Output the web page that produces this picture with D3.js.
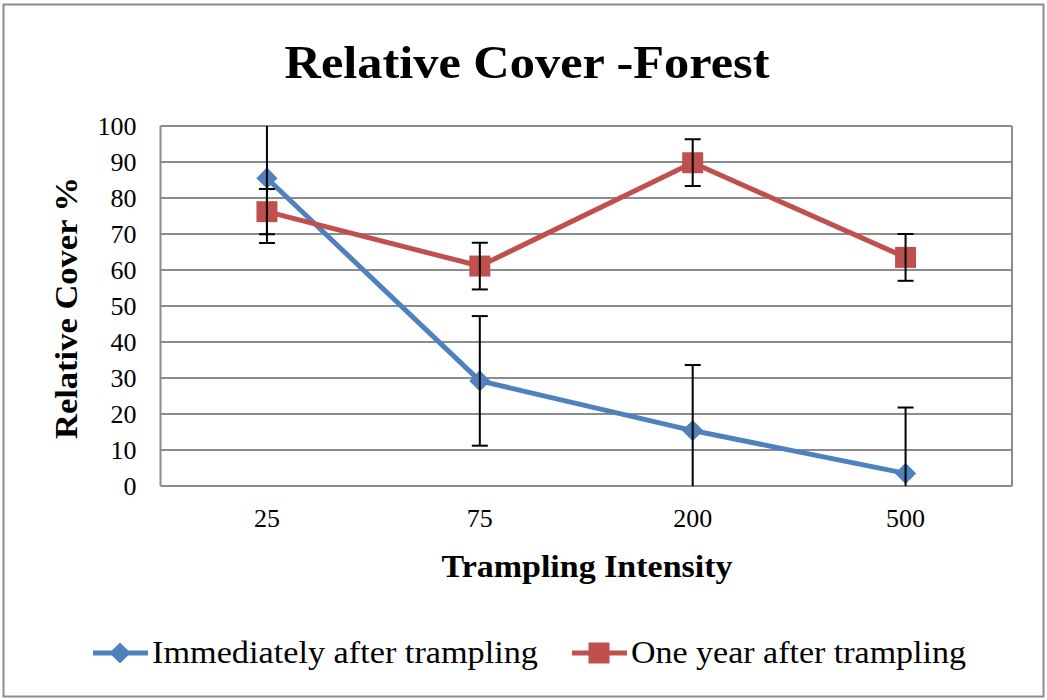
<!DOCTYPE html>
<html>
<head>
<meta charset="utf-8">
<script src="https://cdn.jsdelivr.net/npm/d3@7"></script>
<style>
  body { margin: 0; background: #fff; }
  text { font-family: "Liberation Serif", "DejaVu Serif", serif; }
</style>
</head>
<body>
<div id="svg-holder"></div>
<script>
let width = 1047,
    height = 700

// data
let categories = ["25", "75", "200", "500"]
let immediate = [85.5, 29.2, 15.4, 3.5]
let immediateErr = [18, 18, 18.2, 18.3]
let oneYear = [76.2, 61.1, 89.8, 63.5]
let oneYearErr = [6.3, 6.5, 6.5, 6.5]
let yTicks = [0, 10, 20, 30, 40, 50, 60, 70, 80, 90, 100]
let seriesNames = ["Immediately after trampling", "One year after trampling"]

let svg = d3.select("#svg-holder").append("svg")
    .attr("width", width)
    .attr("height", height)

// outer frame
svg.append("rect")
    .attr("x", 3.5).attr("y", 4.5)
    .attr("width", 1040).attr("height", 692)
    .attr("fill", "#fff")
    .attr("stroke", "#8c8c8c")
    .attr("stroke-width", 2)

let plot = {left: 160.5, right: 1012, top: 126, bottom: 486}

let x = d3.scaleBand()
    .domain(categories)
    .range([plot.left, plot.right])

let y = d3.scaleLinear()
    .domain([0, 100])
    .range([plot.bottom, plot.top])

// gridlines
svg.append("g")
    .selectAll("line")
    .data(yTicks)
    .enter()
    .append("line")
        .attr("x1", plot.left)
        .attr("x2", plot.right)
        .attr("y1", d => y(d))
        .attr("y2", d => y(d))
        .attr("stroke", "#8c8c8c")
        .attr("stroke-width", 2)

// plot frame sides
svg.append("line")
    .attr("x1", plot.left).attr("x2", plot.left)
    .attr("y1", plot.top).attr("y2", plot.bottom)
    .attr("stroke", "#8c8c8c").attr("stroke-width", 2)
svg.append("line")
    .attr("x1", plot.right).attr("x2", plot.right)
    .attr("y1", plot.top).attr("y2", plot.bottom)
    .attr("stroke", "#8c8c8c").attr("stroke-width", 2)

// y axis labels
let yAxis = d3.axisLeft(y).tickValues(yTicks).tickSize(0).tickPadding(24)
let yg = svg.append("g")
    .attr("transform", `translate(${plot.left},0)`)
    .call(yAxis)
yg.select(".domain").remove()
yg.selectAll("text")
    .style("font-family", "'Liberation Serif', serif")
    .style("font-size", "26px")
    .attr("fill", "#000")

// x axis labels
let xAxis = d3.axisBottom(x).tickSize(0).tickPadding(23)
let xg = svg.append("g")
    .attr("transform", `translate(0,${plot.bottom})`)
    .call(xAxis)
xg.select(".domain").remove()
xg.selectAll("text")
    .style("font-family", "'Liberation Serif', serif")
    .style("font-size", "26px")
    .attr("fill", "#000")

// clip error bars to plot area
svg.append("clipPath").attr("id", "plot-clip")
    .append("rect")
    .attr("x", plot.left).attr("y", plot.top)
    .attr("width", plot.right - plot.left)
    .attr("height", plot.bottom - plot.top)

let series = [
    {name: seriesNames[0], values: immediate, err: immediateErr, color: "#4F81BD", size: 225, rot: 45},
    {name: seriesNames[1], values: oneYear, err: oneYearErr, color: "#C0504D", size: 440, rot: 0}
]

let cx = i => x(categories[i]) + x.bandwidth() / 2

let line = d3.line()
    .x((d, i) => cx(i))
    .y(d => y(d))

let marker = s => d3.symbol().type(d3.symbolSquare).size(s.size)()

series.forEach(s => {
    svg.append("path")
        .datum(s.values)
        .attr("d", line)
        .attr("fill", "none")
        .attr("stroke", s.color)
        .attr("stroke-width", 5)
        .attr("stroke-linejoin", "round")

    s.values.forEach((v, i) => {
        svg.append("path")
            .attr("transform", `translate(${cx(i)},${y(v)}) rotate(${s.rot})`)
            .attr("d", marker(s))
            .attr("fill", s.color)
    })
})

// error bars on top
series.forEach(s => {
    let g = svg.append("g").attr("clip-path", "url(#plot-clip)")
    s.values.forEach((v, i) => {
        let hi = y(v + s.err[i]), lo = y(v - s.err[i]), c = cx(i)
        g.append("line")
            .attr("x1", c).attr("x2", c)
            .attr("y1", hi).attr("y2", lo)
            .attr("stroke", "#000").attr("stroke-width", 2)
        ;[hi, lo].forEach(yy => {
            g.append("line")
                .attr("x1", c - 8).attr("x2", c + 8)
                .attr("y1", yy).attr("y2", yy)
                .attr("stroke", "#000").attr("stroke-width", 2)
        })
    })
})

// title
svg.append("text")
    .attr("x", 527).attr("y", 78)
    .attr("text-anchor", "middle")
    .attr("textLength", 485)
    .attr("lengthAdjust", "spacingAndGlyphs")
    .style("font-size", "46px")
    .style("font-weight", "bold")
    .text("Relative Cover -Forest")

// axis titles
svg.append("text")
    .attr("x", 587).attr("y", 577)
    .attr("text-anchor", "middle")
    .attr("textLength", 291)
    .attr("lengthAdjust", "spacingAndGlyphs")
    .style("font-size", "31px")
    .style("font-weight", "bold")
    .text("Trampling Intensity")

svg.append("text")
    .attr("transform", "translate(77,308) rotate(-90)")
    .attr("text-anchor", "middle")
    .attr("textLength", 262)
    .attr("lengthAdjust", "spacingAndGlyphs")
    .style("font-size", "31px")
    .style("font-weight", "bold")
    .text("Relative Cover %")

// legend
let legendX = [93, 572]
let legendLen = [386, 335]
series.forEach((s, i) => {
    let lg = svg.append("g").attr("transform", `translate(${legendX[i]},653)`)
    lg.append("line")
        .attr("x1", 0).attr("x2", 55)
        .attr("stroke", s.color).attr("stroke-width", 5)
    lg.append("path")
        .attr("transform", `translate(27,0) rotate(${s.rot})`)
        .attr("d", marker(s))
        .attr("fill", s.color)
    lg.append("text")
        .attr("x", 59).attr("y", 10)
        .attr("textLength", legendLen[i])
        .attr("lengthAdjust", "spacingAndGlyphs")
        .style("font-size", "31px")
        .text(s.name)
})
</script>
</body>
</html>
